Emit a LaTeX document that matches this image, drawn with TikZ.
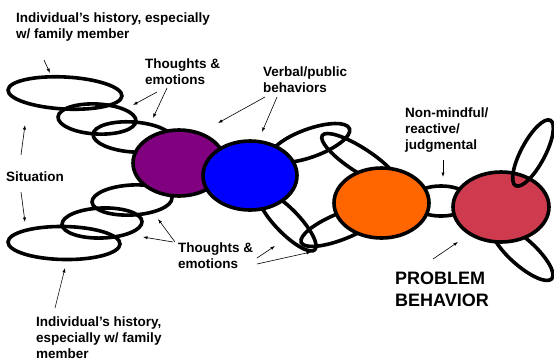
\documentclass[tikz,border=0pt]{standalone}
\usepackage{fontspec}
\setmainfont{Liberation Sans}
\usetikzlibrary{arrows.meta}
\definecolor{plumfill}{RGB}{128,0,128}
\definecolor{bluefill}{RGB}{0,0,255}
\definecolor{orangefill}{RGB}{255,102,0}
\definecolor{redfill}{RGB}{206,59,79}
\tikzset{
  ring/.style={line width=3.6pt},
  blob/.style={line width=3.6pt,draw=black},
  lbl/.style={anchor=north west,inner sep=0pt,align=left,
    font=\fontsize{13.5}{15.8}\selectfont\bfseries},
  biglbl/.style={anchor=north west,inner sep=0pt,align=left,
    font=\fontsize{18}{21.5}\selectfont\bfseries},
  pointer/.style={-{Latex[length=4.5pt,width=3.2pt]},line width=0.6pt}
}

\begin{document}
\begin{tikzpicture}[x=1pt,y=-1pt]
  \useasboundingbox (0,0) rectangle (554,360);
  % left chains
    \draw[ring] (65,93) circle [x radius=57, y radius=16, rotate=-3];
    \draw[ring] (97,119) circle [x radius=39, y radius=15, rotate=-3];
    \draw[ring] (133,137) circle [x radius=40, y radius=15, rotate=-4];
    \draw[ring] (64,243) circle [x radius=56, y radius=16.5, rotate=-1];
    \draw[ring] (102,223) circle [x radius=40, y radius=15, rotate=2];
    \draw[ring] (132,200) circle [x radius=40, y radius=15, rotate=3];
  % links between blue and orange
    \draw[ring] (310,143) circle [x radius=42, y radius=14, rotate=20];
    \draw[ring] (360,160) circle [x radius=45, y radius=12, rotate=-33];
    \draw[ring] (287,221) circle [x radius=40, y radius=12, rotate=-46];
    \draw[ring] (342,226) circle [x radius=44, y radius=13, rotate=22];
    \draw[ring] (441,201) circle [x radius=30, y radius=15];
    \draw[ring] (522,252) circle [x radius=40, y radius=13, rotate=-42];
  % filled ones
    \draw[blob,fill=plumfill] (179,163) circle [x radius=46, y radius=33];
    \draw[blob,fill=bluefill] (250,175.5) circle [x radius=47, y radius=34.5];
    \draw[blob,fill=orangefill] (381.5,203) circle [x radius=47.5, y radius=35];
    \draw[blob,fill=redfill] (501,207) circle [x radius=48, y radius=35];
    \draw[ring] (533,153) circle [x radius=37, y radius=12, rotate=62];
  % labels
  \node[lbl] (histtop) at (16,13) {Individual’s history, especially\\w/ family member};
  \node[lbl] (thoughtstop) at (145,58.5) {Thoughts \&\\emotions};
  \node[lbl] (verbal) at (263,67) {Verbal/public\\behaviors};
  \node[lbl] (situation) at (6,172) {Situation};
  \node[lbl] (thoughtsbot) at (178,242.5) {Thoughts \&\\emotions};
  \node[lbl] (histbot) at (36,316.5) {Individual’s history,\\especially w/ family\\member};
  \node[lbl] (nonmind) at (405,108) {Non-mindful/\\reactive/\\judgmental};
  \node[biglbl] (problem) at (395,272) {PROBLEM\\BEHAVIOR};
  % arrow ends
  \coordinate (histtop-a) at (44,60);   \coordinate (histtop-b) at (50,73);
  \coordinate (thtop-a) at (157,92);    \coordinate (thtop-b) at (133,105);
  \coordinate (thtop-c) at (167,88);    \coordinate (thtop-d) at (153,118);
  \coordinate (verbal-a) at (265,97);   \coordinate (verbal-b) at (218,123);
  \coordinate (verbal-c) at (277,97);   \coordinate (verbal-d) at (262,132);
  \coordinate (sit-a) at (21,155);      \coordinate (sit-b) at (25,125);
  \coordinate (sit-c) at (21,192);      \coordinate (sit-d) at (25,222);
  \coordinate (thbot-a) at (175,242);   \coordinate (thbot-b) at (158,219);
  \coordinate (thbot-c) at (173,242);   \coordinate (thbot-d) at (143,237);
  \coordinate (thbot-e) at (257,258);   \coordinate (thbot-f) at (275,246);
  \coordinate (thbot-g) at (257,264);   \coordinate (thbot-h) at (311,252);
  \coordinate (histbot-a) at (55,308);  \coordinate (histbot-b) at (65,268);
  \coordinate (nonmind-a) at (443,160); \coordinate (nonmind-b) at (443,177);
  \coordinate (problem-a) at (433,259); \coordinate (problem-b) at (458,242);
  \draw[pointer] (histtop-a) -- (histtop-b);
  \draw[pointer] (thtop-a) -- (thtop-b);
  \draw[pointer] (thtop-c) -- (thtop-d);
  \draw[pointer] (verbal-a) -- (verbal-b);
  \draw[pointer] (verbal-c) -- (verbal-d);
  \draw[pointer] (sit-a) -- (sit-b);
  \draw[pointer] (sit-c) -- (sit-d);
  \draw[pointer] (thbot-a) -- (thbot-b);
  \draw[pointer] (thbot-c) -- (thbot-d);
  \draw[pointer] (thbot-e) -- (thbot-f);
  \draw[pointer] (thbot-g) -- (thbot-h);
  \draw[pointer] (histbot-a) -- (histbot-b);
  \draw[pointer] (nonmind-a) -- (nonmind-b);
  \draw[pointer] (problem-a) -- (problem-b);
\end{tikzpicture}
\end{document}
